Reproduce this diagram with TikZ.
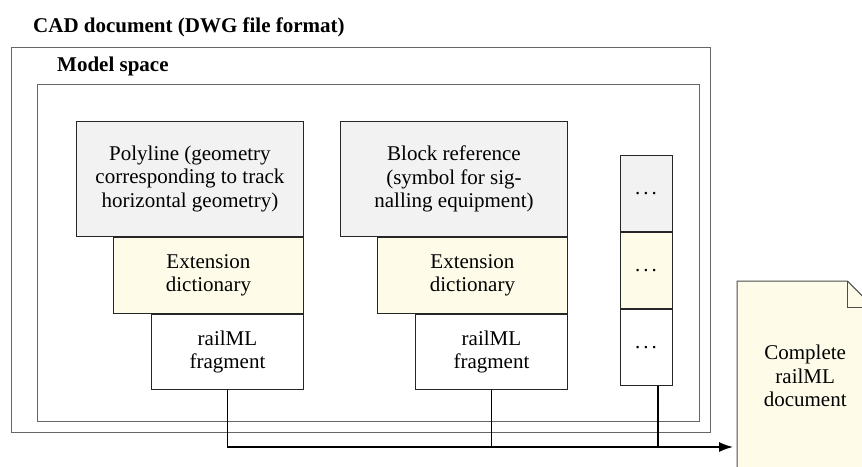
\documentclass[tikz,border=0pt]{standalone}
\usepackage{fontspec}
\setmainfont{Liberation Serif}
\usetikzlibrary{positioning,arrows.meta,backgrounds}

\definecolor{entgray}{RGB}{242,242,242}
\definecolor{extyellow}{RGB}{254,252,233}

\newcommand{\moredots}{.\kern3pt.\kern3pt.}

\tikzset{
  lbl/.style={font=\fontsize{21}{23.5}\selectfont},
  heading/.style={font=\fontsize{21}{23.5}\selectfont\bfseries,inner sep=0pt,anchor=base west},
  frame/.style={draw=black!60,line width=1pt},
  blk/.style={draw=black!85,line width=0.9pt,lbl,align=center,inner sep=0pt},
  entity/.style={blk,fill=entgray,anchor=north west,minimum width=227pt,minimum height=115pt},
  extdict/.style={blk,fill=extyellow,anchor=north east,minimum width=190pt,minimum height=76pt},
  frag/.style={blk,fill=white,anchor=north east,minimum width=152pt,minimum height=75pt},
  more/.style={blk,anchor=north,minimum width=52pt,minimum height=76pt},
  link/.style={line width=1.3pt},
}

\begin{document}
\begin{tikzpicture}[x=1pt,y=-1pt]
    \useasboundingbox (0,0) rectangle (862,466);
    \clip (0,0) rectangle (862,466);

    % containers
    \node[heading] (cadtitle) at (33,32) {CAD document (DWG file format)};
    \draw[frame] (11,47) rectangle (710,432);
    \node[heading] (modeltitle) at (57,71.5) {Model space};
    \draw[frame] (37,84) rectangle (699,421);

    % first entity
    \node[entity] (poly) at (76,121) {Polyline (geometry\\corresponding to track\\horizontal geometry)};
    \node[extdict] (ext1) at (poly.south east) {Extension\\dictionary};
    \node[frag] (frag1) at (ext1.south east) {railML\\fragment};

    % second entity
    \node[entity] (blockref) at (340,121) {Block reference\\(symbol for sig-\\nalling equipment)};
    \node[extdict] (ext2) at (blockref.south east) {Extension\\dictionary};
    \node[frag] (frag2) at (ext2.south east) {railML\\fragment};

    % further entities
    \node[more,fill=entgray] (more1) at (646,155) {\moredots};
    \node[more,fill=extyellow] (more2) at (more1.south) {\moredots};
    \node[more,fill=white] (more3) at (more2.south) {\moredots};

    % output document
    \node[lbl,align=center,inner sep=0pt,anchor=north west,minimum width=136pt,minimum height=190pt] (doc) at (737,281) {Complete\\railML\\document};
    \begin{scope}[on background layer]
        \path[fill=extyellow,draw=black!70,line width=1pt] (doc.north west) -- ([xshift=-26pt]doc.north east)
            -- ([yshift=-26pt]doc.north east) -- (doc.south east) -- (doc.south west) -- cycle;
    \end{scope}
    \draw[draw=black!70,line width=1pt] ([xshift=-26pt]doc.north east) |- ([yshift=-26pt]doc.north east);

    % collecting the fragments
    \coordinate (busend) at (733,447);
    \coordinate (tap) at ([xshift=12pt]more3.south);
    \draw[link,-{Latex[length=14pt,width=10pt]}] (frag1.south) |- (busend);
    \draw[link] (frag2.south) -- (frag2.south |- busend);
    \draw[link] (tap) -- (tap |- busend);
\end{tikzpicture}
\end{document}
